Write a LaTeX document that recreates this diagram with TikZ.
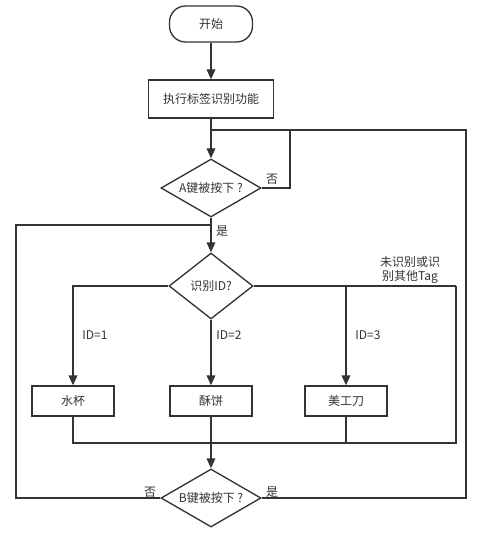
\documentclass[tikz,border=0pt]{standalone}
\usepackage{fontspec}
\setmainfont{Noto Sans CJK SC}
\usetikzlibrary{shapes.geometric,arrows.meta}
\definecolor{ln}{HTML}{333333}
\tikzset{
  every node/.style={font=\fontsize{9}{11}\selectfont, text=ln},
  line/.style={draw=ln, line width=1pt},
  arr/.style={line, -{Triangle[length=7.5pt,width=6.5pt]}},
  term/.style={draw=ln, line width=1pt, rectangle, rounded corners=12pt, minimum width=62.25pt, minimum height=27pt, inner sep=0pt},
  proc/.style={draw=ln, line width=1pt, rectangle, minimum width=93.75pt, minimum height=28.5pt, inner sep=0pt},
  sbox/.style={draw=ln, line width=1pt, rectangle, minimum width=61.5pt, minimum height=22.5pt, inner sep=0pt},
  dec/.style={draw=ln, line width=1pt, diamond, inner sep=0pt},
  lbl/.style={inner sep=0pt}
}
\begin{document}
\begin{tikzpicture}[x=0.75pt, y=-0.75pt]
\useasboundingbox (0,0) rectangle (480,535);
\node[term] (start) at (211,24) {开始};
\node[proc] (box1) at (211,99) {执行标签识别功能};
\node[dec, shape aspect=1.72, minimum width=75pt, minimum height=43.5pt] (A) at (211,188) {A键被按下 ?};
\node[dec, shape aspect=1.27, minimum width=63pt, minimum height=49.5pt] (ID) at (211,286) {识别ID?};
\node[sbox] (b1) at (73,401) {水杯};
\node[sbox] (b2) at (211,401) {酥饼};
\node[sbox] (b3) at (346,401) {美工刀};
\node[dec, shape aspect=1.72, minimum width=75pt, minimum height=43.5pt] (B) at (211,498) {B键被按下 ?};

\coordinate (j1) at (211,130);
\coordinate (jR) at (466,130);
\coordinate (jA) at (290,130);
\coordinate (jL) at (16,225);
\coordinate (j2) at (211,225);
\coordinate (r1) at (456,286);
\coordinate (r3) at (346,286);
\coordinate (m4) at (456,443);
\coordinate (m3) at (346,443);

\draw[arr] (start) -- (box1);
\draw[line] (box1) -- (j1);
\draw[arr] (j1) -- (A);
\draw[line] (A.east) -- (A.east -| jA) -- (jA);
\draw[arr] (A) -- (ID);
\draw[line] (B.west) -- (B.west -| jL) -- (jL) -- (j2);
\draw[line] (B.east) -- (B.east -| jR) -- (jR) -- (j1);
\draw[arr] (ID.west) -| (b1);
\draw[arr] (ID) -- (b2);
\draw[line] (ID.east) -- (r1);
\draw[arr] (r3) -- (b3);
\draw[line] (b1.south) |- (m4) -- (r1);
\draw[line] (b3) -- (m3);
\draw[arr] (b2) -- (B);

\node[lbl] (no1) at (272,179) {否};
\node[lbl] (yes1) at (222,231) {是};
\node[lbl] (id1) at (95,335) {ID=1};
\node[lbl] (id2) at (229,335) {ID=2};
\node[lbl] (id3) at (368,335) {ID=3};
\node[lbl, align=center] (other) at (410,270) {未识别或识\\别其他Tag};
\node[lbl] (no2) at (150,492) {否};
\node[lbl] (yes2) at (272,492) {是};
\end{tikzpicture}
\end{document}
